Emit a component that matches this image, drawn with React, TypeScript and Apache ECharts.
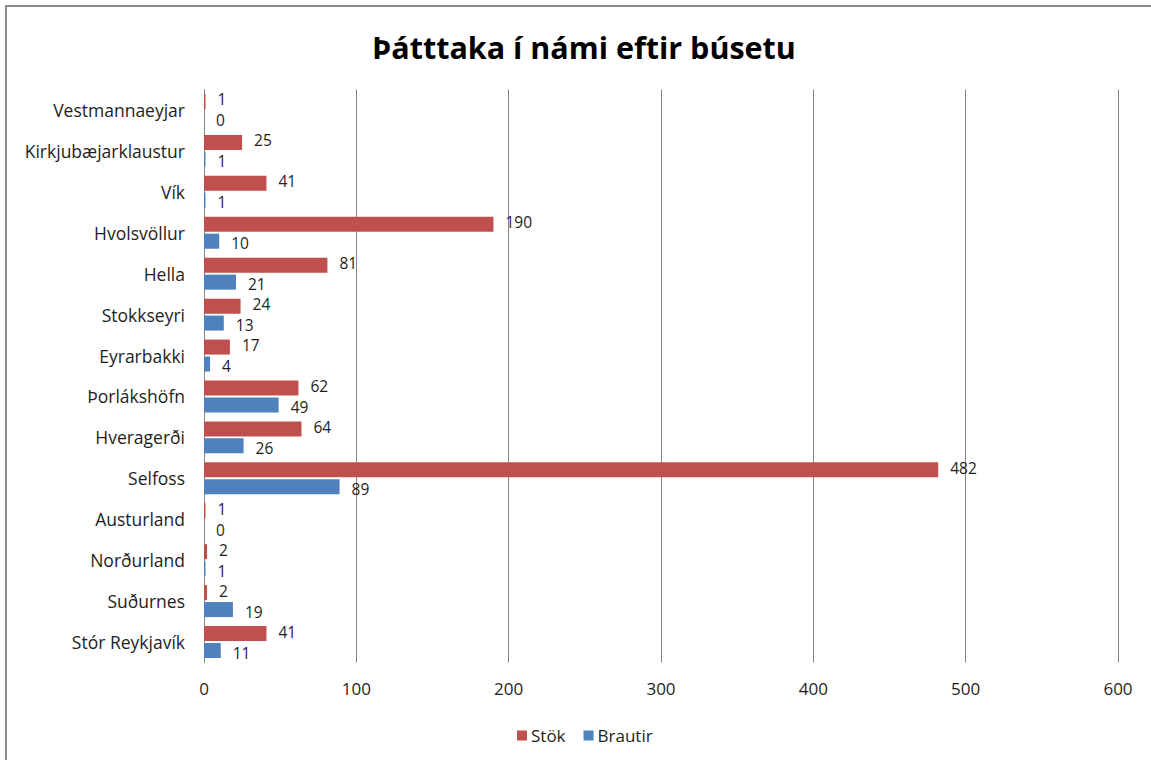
import React, { useEffect, useRef } from "react";
import * as echarts from "echarts";

const titleText = "Þátttaka í námi eftir búsetu";
// bottom to top (category axis starts at bottom)
const categories = [
  "Stór Reykjavík",
  "Suðurnes",
  "Norðurland",
  "Austurland",
  "Selfoss",
  "Hveragerði",
  "Þorlákshöfn",
  "Eyrarbakki",
  "Stokkseyri",
  "Hella",
  "Hvolsvöllur",
  "Vík",
  "Kirkjubæjarklaustur",
  "Vestmannaeyjar",
];
const stok = [41, 2, 2, 1, 482, 64, 62, 17, 24, 81, 190, 41, 25, 1];
const brautir = [11, 19, 1, 0, 89, 26, 49, 4, 13, 21, 10, 1, 1, 0];
const xTicks = { min: 0, max: 600, interval: 100 };

const FONT = "'Open Sans', sans-serif";
const TEXT = "#1e1e1e";

export default function App() {
  const ref = useRef<HTMLDivElement>(null);
  useEffect(() => {
    if (!ref.current) return;
    const chart = echarts.init(ref.current, undefined, { renderer: "svg" });
    const label = (dy: number) => ({
      show: true,
      position: "right",
      distance: 12,
      offset: [0, dy],
      fontSize: 15.5,
      lineHeight: 14,
      color: TEXT,
      fontFamily: FONT,
    });
    chart.setOption({
      animation: false,
      backgroundColor: "#fff",
      title: {
        text: titleText,
        left: 579,
        textAlign: "center",
        top: 26,
        textStyle: { fontSize: 30.5, fontWeight: "bold", color: "#000", fontFamily: FONT },
      },
      legend: {
        data: ["Stök", "Brautir"],
        left: 512,
        top: 722,
        itemWidth: 10,
        itemHeight: 10,
        itemGap: 18,
        icon: "rect",
        textStyle: { fontSize: 17, color: TEXT, fontFamily: FONT, padding: [0, 0, 0, -1] },
      },
      grid: { left: 204, right: 33, top: 89.5, bottom: 97.5, containLabel: false },
      xAxis: {
        type: "value",
        min: xTicks.min,
        max: xTicks.max,
        interval: xTicks.interval,
        axisLine: { show: false },
        axisTick: { show: false },
        splitLine: { show: true, lineStyle: { color: "#868686", width: 1 } },
        axisLabel: { fontSize: 17, color: TEXT, fontFamily: FONT, margin: 17 },
      },
      yAxis: {
        type: "category",
        data: categories,
        axisLine: { show: true, lineStyle: { color: "#868686", width: 1 } },
        axisTick: { show: false },
        axisLabel: { fontSize: 17.5, color: TEXT, fontFamily: FONT, margin: 19 },
      },
      series: [
        {
          name: "Stök",
          type: "bar",
          data: stok,
          barWidth: 15,
          barGap: "13%",
          itemStyle: { color: "#C0504D" },
          label: label(-2),
        },
        {
          name: "Brautir",
          type: "bar",
          data: brautir,
          barWidth: 15,
          barGap: "13%",
          itemStyle: { color: "#4F81BD" },
          label: label(2),
        },
      ],
      graphic: [
        {
          type: "rect",
          shape: { x: 6, y: 6, width: 1200, height: 800 },
          style: { fill: "none", stroke: "#8c8c8c", lineWidth: 2 },
          silent: true,
        },
      ],
    });
    return () => chart.dispose();
  }, []);
  return (
    <div
      ref={ref}
      style={{ position: "fixed", left: 0, top: 0, width: 1151, height: 760 }}
    />
  );
}
